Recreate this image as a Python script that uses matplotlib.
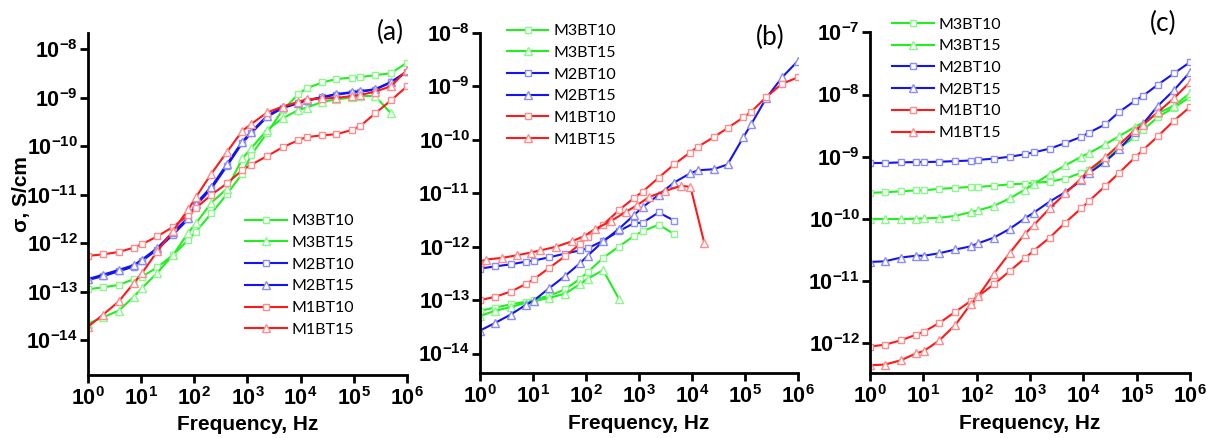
import numpy as np
import matplotlib
matplotlib.use("Agg")
import matplotlib.pyplot as plt
from matplotlib.ticker import FixedLocator, FuncFormatter, NullLocator

plt.rcParams['font.family'] = ['Liberation Sans', 'DejaVu Sans']
plt.rcParams['mathtext.fontset'] = 'custom'
plt.rcParams['mathtext.rm'] = 'Liberation Sans'
plt.rcParams['mathtext.bf'] = 'Liberation Sans:bold'

# frequency grids (Hz)
freq_a = [1, 1.9, 3.8, 7.3, 10.3, 20, 40, 77, 107, 210, 414, 800, 1170, 2340,
          4570, 9100, 12900, 25700, 46800, 93000, 132000, 251000, 500000, 1000000]
freq_b = [1, 1.3, 2.6, 5, 9.1, 13.8, 27.5, 54, 93, 148, 295, 562, 933, 1550,
          3090, 6170, 9330, 17000]

labels = ['M3BT10', 'M3BT15', 'M2BT10', 'M2BT15', 'M1BT10', 'M1BT15']

# panel (a): log10 of conductivity, S/cm
a_m3bt10 = [-12.95, -12.91, -12.86, -12.74, -12.69, -12.50, -12.24, -11.93, -11.76, -11.38,
            -10.98, -10.56, -10.18, -9.72, -9.25, -8.92, -8.80, -8.68, -8.61, -8.58,
            -8.57, -8.53, -8.49, -8.27]
a_m3bt15 = [-13.66, -13.53, -13.39, -13.10, -12.93, -12.61, -12.24, -11.78, -11.59, -11.16,
            -10.87, -10.25, -10.04, -9.66, -9.42, -9.25, -9.20, -9.08, -9.03, -8.99,
            -8.96, -8.96, -9.32]
a_m2bt10 = [-12.76, -12.68, -12.58, -12.48, -12.37, -12.13, -11.82, -11.50, -11.22, -10.87,
            -10.40, -9.93, -9.73, -9.39, -9.21, -9.11, -9.06, -8.99, -8.93, -8.89,
            -8.87, -8.83, -8.68, -8.46]
a_m2bt15 = [-12.74, -12.65, -12.55, -12.45, -12.34, -12.10, -11.77, -11.47, -11.18, -10.83,
            -10.36, -9.90, -9.70, -9.37, -9.19, -9.10, -9.05, -8.98, -8.92, -8.88,
            -8.86, -8.82, -8.67, -8.45]
a_m1bt10 = [-12.26, -12.23, -12.18, -12.09, -12.02, -11.86, -11.66, -11.42, -11.27, -11.00,
            -10.76, -10.49, -10.38, -10.20, -10.02, -9.87, -9.81, -9.77, -9.75, -9.66,
            -9.58, -9.32, -9.05, -8.76]
a_m1bt15 = [-13.72, -13.48, -13.20, -12.82, -12.62, -12.17, -11.74, -11.30, -11.05, -10.56,
            -10.11, -9.68, -9.54, -9.30, -9.18, -9.08, -9.03, -9.01, -9.00, -8.96,
            -8.94, -8.87, -8.76, -8.42]

# panel (b)
b_m3bt10 = [-13.20, -13.14, -13.08, -13.03, -12.99, -12.92, -12.80, -12.60, -12.48, -12.21,
            -12.00, -11.80, -11.71, -11.59, -11.76]
b_m3bt15 = [-13.30, -13.20, -13.13, -13.05, -13.02, -12.96, -12.88, -12.70, -12.60, -12.44,
            -12.97]
b_m2bt10 = [-12.41, -12.37, -12.33, -12.28, -12.26, -12.20, -12.13, -12.07, -12.03, -11.89,
            -11.71, -11.56, -11.55, -11.36, -11.51]
b_m2bt15 = [-13.57, -13.43, -13.27, -13.09, -13.01, -12.78, -12.55, -12.31, -12.17, -11.90,
            -11.67, -11.41, -11.26, -11.03, -10.80, -10.63, -10.57, -10.55, -10.46, -9.95,
            -9.70, -9.22, -8.83, -8.52]
b_m1bt10 = [-13.00, -12.94, -12.84, -12.70, -12.61, -12.40, -12.18, -11.95, -11.82, -11.59,
            -11.32, -11.09, -10.97, -10.71, -10.46, -10.24, -10.13, -9.95, -9.78, -9.58,
            -9.47, -9.20, -8.95, -8.83]
b_m1bt15 = [-12.28, -12.24, -12.21, -12.16, -12.11, -12.07, -12.00, -11.90, -11.80, -11.67,
            -11.52, -11.35, -11.22, -11.07, -10.96, -10.86, -10.88, -11.93]

# panel (c)
c_m3bt10 = [-9.58, -9.57, -9.555, -9.54, -9.54, -9.515, -9.50, -9.485, -9.485, -9.465,
            -9.445, -9.43, -9.42, -9.40, -9.35, -9.26, -9.21, -9.06, -8.86, -8.68,
            -8.57, -8.36, -8.21, -8.04]
c_m3bt15 = [-10.00, -10.00, -10.00, -9.995, -9.99, -9.98, -9.95, -9.89, -9.86, -9.79,
            -9.67, -9.53, -9.44, -9.28, -9.14, -9.00, -8.94, -8.80, -8.67, -8.52,
            -8.45, -8.30, -8.18, -7.98]
c_m2bt10 = [-9.10, -9.10, -9.09, -9.085, -9.085, -9.08, -9.07, -9.06, -9.05, -9.03,
            -9.00, -8.96, -8.93, -8.87, -8.78, -8.68, -8.61, -8.48, -8.28, -8.10,
            -8.02, -7.84, -7.66, -7.48]
c_m2bt15 = [-10.69, -10.68, -10.62, -10.59, -10.59, -10.55, -10.49, -10.44, -10.39, -10.30,
            -10.16, -9.99, -9.90, -9.72, -9.57, -9.38, -9.26, -9.08, -8.88, -8.60,
            -8.47, -8.18, -7.93, -7.64]
c_m1bt10 = [-12.05, -12.02, -11.95, -11.86, -11.81, -11.67, -11.49, -11.32, -11.24, -11.05,
            -10.84, -10.63, -10.51, -10.30, -10.06, -9.83, -9.71, -9.47, -9.26, -9.01,
            -8.89, -8.67, -8.42, -8.20]
c_m1bt15 = [-12.35, -12.34, -12.27, -12.16, -12.12, -11.95, -11.70, -11.37, -11.24, -10.88,
            -10.55, -10.24, -10.10, -9.83, -9.59, -9.35, -9.21, -9.01, -8.81, -8.57,
            -8.49, -8.28, -8.06, -7.80]

colors = ['#22ee22', '#22ee22', '#1414f0', '#1414f0', '#ff1a1a', '#ff1a1a']
edges = ['#8cf78c', '#8cf78c', '#8c8cf7', '#8c8cf7', '#ff8c8c', '#ff8c8c']
markers = ['s', '^', 's', '^', 's', '^']

panels = [
    ('(a)', [(freq_a, a_m3bt10), (freq_a, a_m3bt15), (freq_a, a_m2bt10),
             (freq_a, a_m2bt15), (freq_a, a_m1bt10), (freq_a, a_m1bt15)],
     (-14.72, -7.66), range(-14, -7)),
    ('(b)', [(freq_a, b_m3bt10), (freq_a, b_m3bt15), (freq_a, b_m2bt10),
             (freq_a, b_m2bt15), (freq_a, b_m1bt10), (freq_b, b_m1bt15)],
     (-14.37, -8.0), range(-14, -7)),
    ('(c)', [(freq_a, c_m3bt10), (freq_a, c_m3bt15), (freq_a, c_m2bt10),
             (freq_a, c_m2bt15), (freq_a, c_m1bt10), (freq_a, c_m1bt15)],
     (-12.48, -7.0), range(-12, -6)),
]

# axes rectangles in figure fractions
rects = [[0.0729, 0.1438, 0.2643, 0.7808],
         [0.3977, 0.1477, 0.2635, 0.7770],
         [0.7208, 0.1477, 0.2651, 0.7785]]
legend_pos = [(0.203, 0.511), (0.420, 0.945), (0.739, 0.960)]
tag_pos = [(390, 32), (770, 37), (1163, 23)]

fig = plt.figure(figsize=(12.07, 4.38), dpi=100)

fmt = FuncFormatter(lambda v, p: r'$\mathbf{10^{%d}}$' % int(round(np.log10(v))))

for i, (tag, series, ylim, yexp) in enumerate(panels):
    ax = fig.add_axes(rects[i])
    for j, (f, vals) in enumerate(series):
        ax.plot(f[:len(vals)], np.power(10.0, vals), color=colors[j], lw=1.5,
                marker=markers[j], ms=4 if markers[j] == 's' else 5.5,
                mfc='white', mec=edges[j], mew=1.0, label=labels[j])
    ax.set_xscale('log')
    ax.set_yscale('log')
    ax.set_xlim(1, 1e6)
    ax.set_ylim(10 ** ylim[0], 10 ** ylim[1])
    ax.xaxis.set_major_locator(FixedLocator([10.0 ** k for k in range(0, 7)]))
    ax.yaxis.set_major_locator(FixedLocator([10.0 ** k for k in yexp]))
    ax.xaxis.set_minor_locator(NullLocator())
    ax.yaxis.set_minor_locator(NullLocator())
    ax.xaxis.set_major_formatter(fmt)
    ax.yaxis.set_major_formatter(fmt)
    for s in ['top', 'right']:
        ax.spines[s].set_visible(False)
    for s in ['left', 'bottom']:
        ax.spines[s].set_linewidth(2.0)
    ax.tick_params(axis='both', direction='out', length=5.5, width=2.0,
                   labelsize=15.5)
    ax.tick_params(axis='y', pad=2)
    ax.tick_params(axis='x', pad=3)
    ax.set_xlabel('Frequency, Hz', fontsize=15, fontweight='bold', labelpad=4)
    if i == 0:
        ax.set_ylabel('σ, S/cm', fontsize=15, fontweight='bold')
        ax.yaxis.set_label_coords(-0.18, 0.53)
    ax.legend(loc='upper left', bbox_to_anchor=legend_pos[i],
              bbox_transform=fig.transFigure, frameon=False, numpoints=1,
              handlelength=2.6, handletextpad=0.33, labelspacing=0.47,
              borderpad=0, borderaxespad=0,
              prop={'family': 'Lato', 'size': 11.5})
    fig.text(tag_pos[i][0] / 1207, 1 - tag_pos[i][1] / 438, tag,
             family='Lato', fontsize=19, ha='center', va='center')

fig.savefig('out.png', dpi=100)
